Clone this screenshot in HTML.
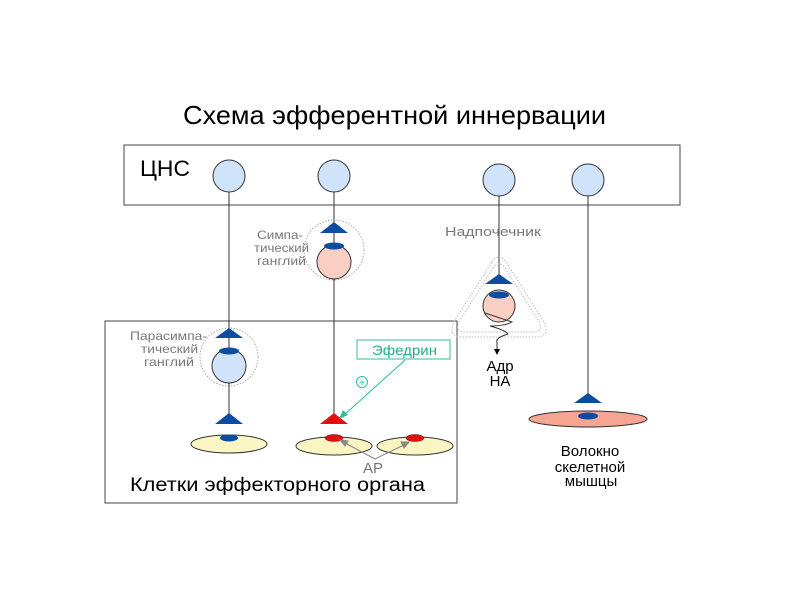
<!DOCTYPE html>
<html><head><meta charset="utf-8"><style>
body{margin:0;background:#fff}
svg{display:block;font-family:"Liberation Sans",sans-serif}
</style></head><body>
<svg width="800" height="600" viewBox="0 0 800 600">
<text x="183" y="124" font-size="26" fill="#000" textLength="423" lengthAdjust="spacingAndGlyphs">Схема эфферентной иннервации</text>
<rect x="124" y="145" width="556" height="60" fill="none" stroke="#444" stroke-width="1"/>
<text x="140" y="176" font-size="22" fill="#000" textLength="50" lengthAdjust="spacingAndGlyphs">ЦНС</text>
<rect x="105" y="321" width="352" height="182" fill="none" stroke="#444" stroke-width="1"/>
<g stroke="#333" stroke-width="1">
<line x1="229" y1="192" x2="229" y2="416"/>
<line x1="334" y1="192" x2="334" y2="416"/>
<line x1="499" y1="196" x2="499" y2="276"/>
<line x1="588" y1="196" x2="588" y2="395"/>
</g>
<circle cx="229" cy="357" r="29" fill="none" stroke="#aaa" stroke-dasharray="1.5,1.5"/>
<circle cx="334" cy="250" r="30" fill="none" stroke="#aaa" stroke-dasharray="1.5,1.5"/>
<path d="M493,268 Q499,260 505,268 L538,320 Q545,332 532,332 L466,332 Q453,332 460,320 Z" fill="none" stroke="#bbb" stroke-dasharray="1.5,1.5"/>
<path d="M492,262 Q499,252 506,262 L543,320 Q552,337 535,337 L463,337 Q446,337 455,320 Z" fill="none" stroke="#bbb" stroke-dasharray="1.5,1.5"/>
<g fill="#cfe3fa" stroke="#333">
<circle cx="229" cy="176" r="16"/><circle cx="334" cy="176" r="16"/>
<circle cx="499" cy="180" r="16"/><circle cx="588" cy="180" r="16"/>
<circle cx="229" cy="366" r="17"/>
</g>
<g fill="#f9cfc4" stroke="#333">
<circle cx="334" cy="262" r="17"/><circle cx="499" cy="306" r="16"/>
</g>
<line x1="334" y1="279" x2="334" y2="416" stroke="#333"/>
<line x1="229" y1="383" x2="229" y2="416" stroke="#333"/>
<g fill="#0c4da2">
<polygon points="229,328 243,338 215,338"/>
<polygon points="229,413 243,424 215,424"/>
<polygon points="334,222 348,233 320,233"/>
<polygon points="499,274 513,284 485,284"/>
<polygon points="588,393 602,403 574,403"/>
</g>
<polygon points="334,413 348,424 320,424" fill="#e01010"/>
<g fill="#fbf5c4" stroke="#333">
<ellipse cx="229" cy="444" rx="38" ry="9"/>
<ellipse cx="334" cy="446" rx="38" ry="9"/>
<ellipse cx="415" cy="446" rx="38" ry="9"/>
</g>
<ellipse cx="588" cy="419" rx="59" ry="8" fill="#f6a593" stroke="#333"/>
<g fill="#0c4da2">
<ellipse cx="229" cy="351" rx="10" ry="3.5"/>
<ellipse cx="334" cy="246" rx="10" ry="3.5"/>
<ellipse cx="499" cy="295" rx="10" ry="3.5"/>
<ellipse cx="229" cy="438" rx="9" ry="3.5"/>
<ellipse cx="588" cy="416" rx="10" ry="3.5"/>
</g>
<g fill="#e01010" stroke="#700" stroke-width="0.5">
<ellipse cx="334" cy="438" rx="9" ry="3.5"/>
<ellipse cx="415" cy="438" rx="9" ry="3.5"/>
</g>
<path d="M485,313 Q500,318 512,322 Q505,326 490,326 Q505,330 508,334 Q495,338 497,342 L497,350" fill="none" stroke="#333"/>
<polygon points="497,355 494,349 500,349" fill="#000"/>
<g stroke="#888" fill="#888">
<line x1="375" y1="459" x2="343" y2="442"/>
<line x1="375" y1="459" x2="406" y2="444"/>
<polygon points="340,440 348,441 345,446"/>
<polygon points="409,442 404,448 401,442"/>
</g>
<text x="363" y="473" font-size="15" fill="#777" textLength="20" lengthAdjust="spacingAndGlyphs">АР</text>
<rect x="357" y="340" width="93" height="19" fill="#fff" stroke="#2bbf9a"/>
<text x="372" y="355" font-size="14" fill="#1fae8a" textLength="65" lengthAdjust="spacingAndGlyphs">Эфедрин</text>
<line x1="405" y1="360" x2="343" y2="416" stroke="#2bbf9a"/>
<polygon points="339,419 343,410 348,415" fill="#2bbf9a"/>
<circle cx="362" cy="382" r="5.5" fill="none" stroke="#2bbf9a"/>
<text x="362" y="386" font-size="10" fill="#2bbf9a" text-anchor="middle">+</text>
<g font-size="12" fill="#777">
<text x="257" y="239" textLength="46" lengthAdjust="spacingAndGlyphs">Симпа-</text>
<text x="254" y="252" textLength="55" lengthAdjust="spacingAndGlyphs">тический</text>
<text x="257" y="265" textLength="49" lengthAdjust="spacingAndGlyphs">ганглий</text>
<text x="130" y="340" textLength="77" lengthAdjust="spacingAndGlyphs">Парасимпа-</text>
<text x="141" y="353" textLength="57" lengthAdjust="spacingAndGlyphs">тический</text>
<text x="144" y="366" textLength="50" lengthAdjust="spacingAndGlyphs">ганглий</text>
<text x="445" y="236" font-size="13" textLength="96" lengthAdjust="spacingAndGlyphs">Надпочечник</text>
</g>
<g font-size="15" fill="#000" text-anchor="middle">
<text x="500" y="371">Адр</text><text x="500" y="386">НА</text>
<text x="590" y="456">Волокно</text><text x="590" y="472">скелетной</text><text x="591" y="486">мышцы</text>
</g>
<text x="130" y="491" font-size="19" fill="#000" textLength="295" lengthAdjust="spacingAndGlyphs">Клетки  эффекторного  органа</text>
</svg>
</body></html>
